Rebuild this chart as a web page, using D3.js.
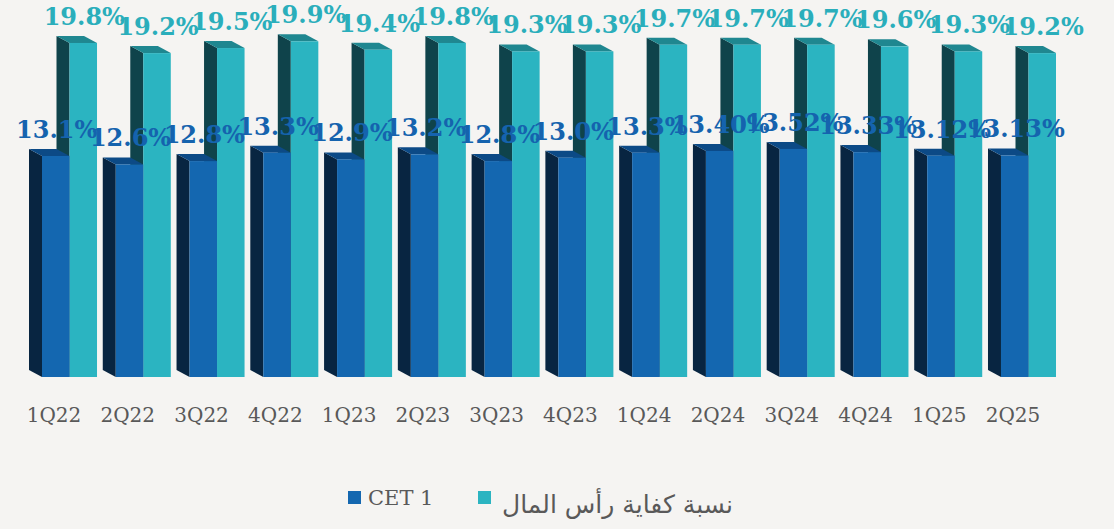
<!DOCTYPE html>
<html>
<head>
<meta charset="utf-8">
<script src="https://cdn.jsdelivr.net/npm/d3@7"></script>
<style>
  body { margin: 0; background: #f5f4f2; }
  svg { display: block; }
</style>
</head>
<body>
<div id="chart"></div>
<script>
// 3D-look grouped bars: CET 1 vs capital adequacy ratio by quarter

const quarters = ["1Q22", "2Q22", "3Q22", "4Q22", "1Q23", "2Q23", "3Q23", "4Q23",
                  "1Q24", "2Q24", "3Q24", "4Q24", "1Q25", "2Q25"];
const cet1 = [13.1, 12.6, 12.8, 13.3, 12.9, 13.2, 12.8, 13.0, 13.3, 13.40, 13.52, 13.33, 13.12, 13.13];
const cet1Labels = ["13.1%", "12.6%", "12.8%", "13.3%", "12.9%", "13.2%", "12.8%", "13.0%",
                    "13.3%", "13.40%", "13.52%", "13.33%", "13.12%", "13.13%"];
const car = [19.8, 19.2, 19.5, 19.9, 19.4, 19.8, 19.3, 19.3, 19.7, 19.7, 19.7, 19.6, 19.3, 19.2];
const carLabels = ["19.8%", "19.2%", "19.5%", "19.9%", "19.4%", "19.8%", "19.3%", "19.3%",
                   "19.7%", "19.7%", "19.7%", "19.6%", "19.3%", "19.2%"];
const seriesNames = ["CET 1", "نسبة كفاية رأس المال"];

(function() {
    const W = 1114, H = 529;
    const dx = 13, dy = 7;           // depth of the 3D faces
    const base = 377;

    const svg = d3.select("#chart")
        .append("svg")
        .attr("width", W)
        .attr("height", H);

    svg.append("rect").attr("width", W).attr("height", H).attr("fill", "#f5f4f2");

    // X scale (quarters)
    const x = d3.scaleBand()
        .domain(quarters)
        .range([29, 1056])
        .paddingInner(0.078)
        .paddingOuter(0);

    // inner scale for the two bars of a group (after the side depth)
    const xs = d3.scaleBand()
        .domain(["cet", "car"])
        .range([dx, x.bandwidth()]);

    // Y scale (percent)
    const y = d3.scaleLinear()
        .domain([0, 20])
        .range([base, base - 20 * 16.87]);

    const colors = {
        cet: {front: "#1467b0", side: "#082541", top: "#0c4a86", label: "#1563ae"},
        car: {front: "#2bb4c1", side: "#0f434b", top: "#1f8790", label: "#2aaebb"}
    };

    const rows = quarters.map((q, i) => ({
        q: q,
        bars: [
            {key: "car", v: car[i], label: carLabels[i]},
            {key: "cet", v: cet1[i], label: cet1Labels[i]}
        ]
    }));

    const groups = svg.selectAll("g.grp")
        .data(rows)
        .enter()
        .append("g")
        .attr("class", "grp")
        .attr("transform", d => `translate(${x(d.q)},0)`);

    const bar = groups.selectAll("g.bar")
        .data(d => d.bars)
        .enter()
        .append("g")
        .attr("class", "bar");

    // side face
    bar.append("polygon")
        .attr("fill", d => colors[d.key].side)
        .attr("points", d => {
            const x0 = xs(d.key), yt = y(d.v);
            return [[x0 - dx, yt - dy], [x0, yt], [x0, base], [x0 - dx, base - dy]].join(" ");
        });

    // top face
    bar.append("polygon")
        .attr("fill", d => colors[d.key].top)
        .attr("points", d => {
            const x0 = xs(d.key), x1 = x0 + xs.bandwidth(), yt = y(d.v);
            return [[x0 - dx, yt - dy], [x1 - dx, yt - dy], [x1, yt], [x0, yt]].join(" ");
        });

    // front face
    bar.append("rect")
        .attr("x", d => xs(d.key))
        .attr("y", d => y(d.v))
        .attr("width", xs.bandwidth())
        .attr("height", d => base - y(d.v))
        .attr("fill", d => colors[d.key].front);

    // value labels (on top of everything)
    const labels = svg.append("g")
        .attr("font-family", "Georgia, 'DejaVu Serif', serif")
        .attr("font-weight", "bold")
        .attr("font-size", 24)
        .attr("text-anchor", "middle");

    rows.forEach(r => {
        r.bars.forEach(b => {
            labels.append("text")
                .attr("x", x(r.q) + xs(b.key) + xs.bandwidth() / 2 + 1)
                .attr("y", y(b.v) - 18)
                .attr("fill", colors[b.key].label)
                .text(b.label);
        });
    });

    // X axis
    const xAxis = svg.append("g")
        .attr("transform", `translate(-9,${base + 27})`)
        .call(d3.axisBottom(x).tickSize(0).tickPadding(0));
    xAxis.select(".domain").remove();
    xAxis.selectAll("text")
        .attr("font-family", "Georgia, 'DejaVu Serif', serif")
        .attr("font-size", 20)
        .attr("fill", "#595959")
        .attr("dy", "0.9em");

    // Legend
    const legend = svg.append("g");
    legend.append("rect").attr("x", 348).attr("y", 491).attr("width", 13).attr("height", 13)
        .attr("fill", colors.cet.front);
    legend.append("text").attr("x", 368).attr("y", 505)
        .attr("font-family", "Georgia, 'DejaVu Serif', serif")
        .attr("font-size", 21)
        .attr("fill", "#595959")
        .text(seriesNames[0]);
    legend.append("rect").attr("x", 478).attr("y", 491).attr("width", 13).attr("height", 13)
        .attr("fill", colors.car.front);
    legend.append("text").attr("x", 733).attr("y", 513)
        .attr("text-anchor", "end")
        .attr("font-family", "'DejaVu Sans', sans-serif")
        .attr("font-size", 25)
        .attr("fill", "#595959")
        .text(seriesNames[1]);
})();
</script>
</body>
</html>
